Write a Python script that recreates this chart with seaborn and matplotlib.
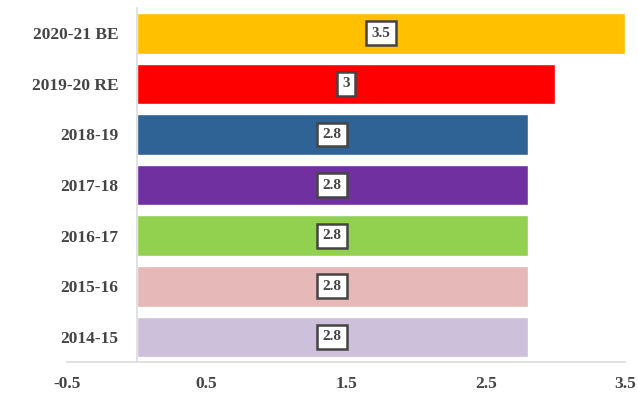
import matplotlib
matplotlib.use("Agg")
import matplotlib.pyplot as plt
import seaborn as sns
import pandas as pd

years = ["2020-21 BE", "2019-20 RE", "2018-19", "2017-18", "2016-17", "2015-16", "2014-15"]
values = [3.5, 3.0, 2.8, 2.8, 2.8, 2.8, 2.8]
labels = ["3.5", "3", "2.8", "2.8", "2.8", "2.8", "2.8"]
colors = ["#FFC000", "#FF0000", "#2F6395", "#7030A0", "#92D050", "#E6B8B7", "#CCC0DA"]
xticks = [-0.5, 0.5, 1.5, 2.5, 3.5]

sns.set_theme(style="white")
plt.rcParams['font.family'] = ['Liberation Serif', 'DejaVu Serif']

df = pd.DataFrame({"year": years, "value": values})
fig = plt.figure(figsize=(6.38, 3.98), dpi=100)
ax = fig.add_axes([0.105, 0.09, 0.875, 0.89])
sns.barplot(data=df, x="value", y="year", hue="year", palette=colors, order=years,
            orient="h", width=0.8, saturation=1, edgecolor="white", linewidth=1,
            legend=False, ax=ax)

for i, (v, lab) in enumerate(zip(values, labels)):
    ax.text(v / 2, i, lab, ha="center", va="center", fontsize=11, fontweight="bold",
            color="#444444",
            bbox=dict(boxstyle="square,pad=0.35", facecolor="white", edgecolor="#444444",
                      linewidth=1.8))

ax.set_xlim(-0.5, 3.5)
ax.set_ylim(6.5, -0.5)
ax.set_xticks(xticks)
ax.set_xticklabels([str(t) for t in xticks])
ax.set_xlabel("")
ax.set_ylabel("")
for s in ["top", "right"]:
    ax.spines[s].set_visible(False)
ax.spines["left"].set_position(("data", 0))
ax.spines["left"].set_color("#dddddd")
ax.spines["bottom"].set_color("#dddddd")
ax.tick_params(axis="x", length=3, color="#dddddd", labelsize=12.5, labelcolor="#444444", pad=7)
ax.tick_params(axis="y", length=0, labelsize=12.5, labelcolor="#444444", pad=13)
for t in ax.get_xticklabels() + ax.get_yticklabels():
    t.set_fontweight("bold")
fig.savefig("out.png", dpi=100)
